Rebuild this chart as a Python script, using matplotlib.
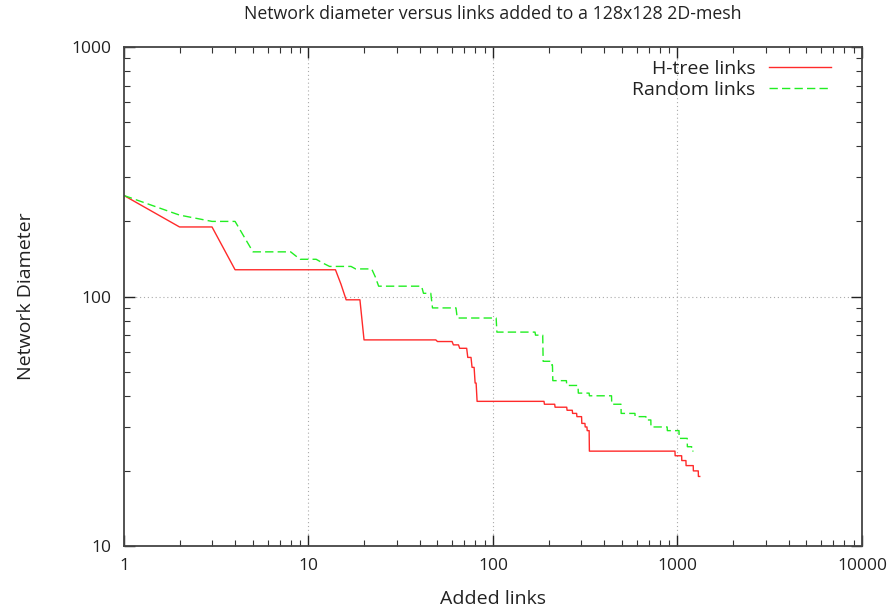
import numpy as np
import matplotlib
matplotlib.use('Agg')
import matplotlib.pyplot as plt
from matplotlib.ticker import LogLocator, FixedLocator, FixedFormatter, NullFormatter

plt.rcParams['font.family'] = ['Open Sans', 'DejaVu Sans']

# diameter after n added links, given as (link count where it changes, new value)
htree_at = [1, 2, 4, 15, 16, 20, 50, 61, 66, 73, 77, 80, 82, 190, 217, 252, 270, 285, 303, 316,
            324, 333, 970, 1054, 1112, 1218, 1297]
htree_diam = [254, 190, 128, 112, 97, 67, 66, 64, 62, 57, 52, 45, 38, 37, 36, 35, 34, 33, 31, 30,
              29, 24, 23, 22, 21, 20, 19]
htree_last = 1320

random_at = [1, 2, 3, 5, 9, 12, 13, 18, 23, 24, 42, 47, 64, 105, 170, 187, 209, 211, 251, 290,
             333, 440, 495, 589, 675, 718, 880, 1020, 1130, 1194]
random_diam = [254, 212, 200, 151, 141, 136, 132, 129, 120, 110, 103, 90, 82, 72, 70, 55, 53, 46,
               44, 41, 40, 37, 34, 33, 32, 30, 29, 27, 25, 24]
random_last = 1220


def per_link(at, diam, last):
    # value after each added link, held until the next change
    n = np.arange(1, last + 1)
    idx = np.searchsorted(at, n, side='right') - 1
    return n, np.array(diam)[idx]


def plot():
    fig = plt.figure(figsize=(8.94, 6.13), dpi=100)
    ax = fig.add_axes([0.1387, 0.1093, 0.8255, 0.814])

    xr, yr = per_link(htree_at, htree_diam, htree_last)
    xg, yg = per_link(random_at, random_diam, random_last)
    ax.plot(xr, yr, color='#ff2a2a', lw=1.0, label='H-tree links')
    ax.plot(xg, yg, color='#22ee22', lw=1.0, dashes=(6, 3), label='Random links')

    ax.set_xscale('log')
    ax.set_yscale('log')
    ax.set_xlim(1, 10000)
    ax.set_ylim(10, 1000)

    ax.xaxis.set_major_locator(FixedLocator([1, 10, 100, 1000, 10000]))
    ax.xaxis.set_major_formatter(FixedFormatter(['1', '10', '100', '1000', '10000']))
    ax.yaxis.set_major_locator(FixedLocator([10, 100, 1000]))
    ax.yaxis.set_major_formatter(FixedFormatter(['10', '100', '1000']))
    ax.xaxis.set_minor_locator(LogLocator(base=10, subs=np.arange(2, 10)))
    ax.yaxis.set_minor_locator(LogLocator(base=10, subs=np.arange(2, 10)))
    ax.xaxis.set_minor_formatter(NullFormatter())
    ax.yaxis.set_minor_formatter(NullFormatter())

    ax.tick_params(which='both', direction='in', top=True, right=True, color='#333333')
    ax.tick_params(which='major', length=8, width=1.0, labelsize=12.5, pad=9, colors='#222222')
    ax.tick_params(which='minor', length=4, width=0.8)
    for s in ax.spines.values():
        s.set_color('#444444')
        s.set_linewidth(1.3)

    for gx in [10, 100, 1000]:
        ax.axvline(gx, color='#aaaaaa', lw=0.8, ls=(0, (1, 2.5)), zorder=0)
    ax.axhline(100, color='#aaaaaa', lw=0.8, ls=(0, (1, 2.5)), zorder=0)

    ax.set_xlabel('Added links', fontsize=14, labelpad=11, color='#222222')
    ax.set_ylabel('Network Diameter', fontsize=14, labelpad=26, color='#222222')
    ax.set_title('Network diameter versus links added to a 128x128 2D-mesh', fontsize=12.8,
                 pad=20, color='#222222')

    leg = ax.legend(loc='upper right', bbox_to_anchor=(0.969, 0.99), frameon=False,
                    fontsize=14, markerfirst=False, handlelength=3.2, handletextpad=0.7,
                    labelspacing=0.15, borderaxespad=0)
    for t in leg.get_texts():
        t.set_color('#222222')

    fig.savefig('out.png', dpi=100)


plot()
